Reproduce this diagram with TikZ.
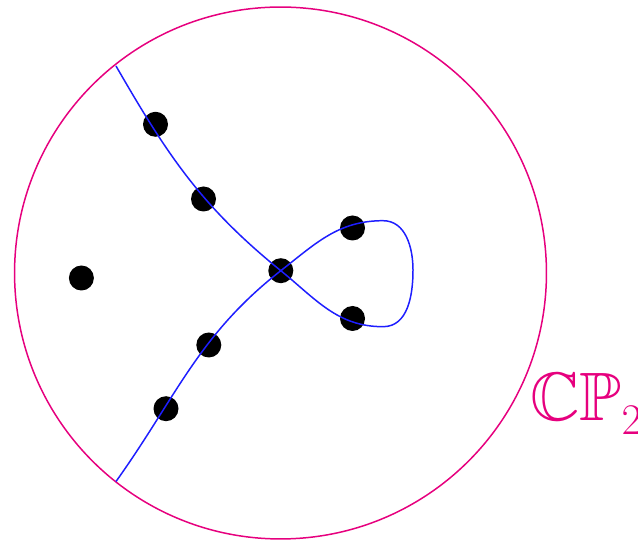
\documentclass[tikz,border=0pt]{standalone}
\usepackage{amssymb}
\usepackage{xcolor}
\usetikzlibrary{positioning}
\definecolor{PlaneMagenta}{HTML}{E6007E}
\definecolor{CurveBlue}{HTML}{1E1EFF}
\tikzset{
  plane/.style={circle, draw=PlaneMagenta, line width=0.85pt, inner sep=0pt, minimum size=10.64cm},
  curve/.style={draw=CurveBlue, line width=0.85pt},
  dot/.style={circle, fill=black, inner sep=0pt, minimum size=0.5cm},
  planelabel/.style={text=PlaneMagenta, inner sep=0pt, anchor=base west, font=\fontsize{39}{42}\selectfont}
}
\begin{document}
\begin{tikzpicture}[x=0.02cm, y=0.02cm]
\useasboundingbox (0,0) rectangle (638,540);
\node[plane] (cp) at (280.5,267) {};
\node[planelabel] (cplabel) at (530,119) {$\mathbb{CP}_2$};
% curve ends and loop
\coordinate (topend) at (116,474);
\coordinate (botend) at (116,58.5);
\coordinate (loopb) at (383,213.3);
\coordinate (loopr) at (413,270);
\coordinate (loopt) at (383,319.3);
% points
\node[dot] (u1) at (155.5,415.7) {};
\node[dot] (u2) at (203.5,341) {};
\node[dot] (cross) at (280.8,269.3) {};
\node[dot] (r1) at (352.5,312) {};
\node[dot] (r2) at (352.5,221.5) {};
\node[dot] (l1) at (208.8,195) {};
\node[dot] (l2) at (166,131.3) {};
\node[dot] (lone) at (81.4,262) {};
\draw[curve] (topend) to[out=-60, in=141] (cross.center)
  to[out=-39, in=180] (loopb) to[out=0, in=-90] (loopr)
  to[out=90, in=0] (loopt) to[out=180, in=38] (cross.center)
  to[out=-142, in=54.5] (botend);
\end{tikzpicture}
\end{document}
